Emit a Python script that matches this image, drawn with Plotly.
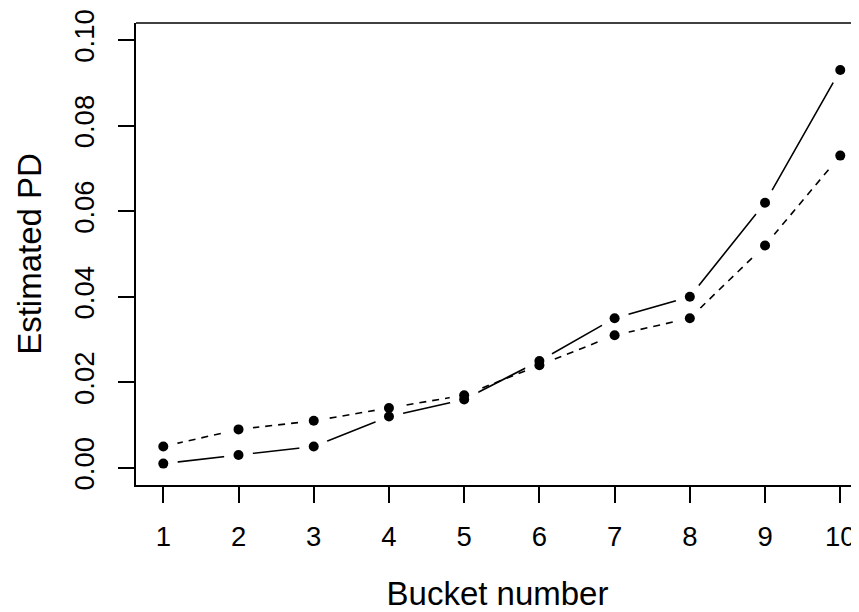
import plotly.graph_objects as go

buckets = [1, 2, 3, 4, 5, 6, 7, 8, 9, 10]
pd_solid = [0.001, 0.003, 0.005, 0.012, 0.016, 0.025, 0.035, 0.040, 0.062, 0.093]
pd_dashed = [0.005, 0.009, 0.011, 0.014, 0.017, 0.024, 0.031, 0.035, 0.052, 0.073]
y_ticks = [0.00, 0.02, 0.04, 0.06, 0.08, 0.10]
y_ticktext = ["0.00", "0.02", "0.04", "0.06", "0.08", "0.10"]
x_title = "Bucket number"
y_title = "Estimated PD"

FONT = "Liberation Sans, Arial, sans-serif"
FS = 27.5
LW = 1.6

fig = go.Figure()
fig.add_trace(go.Scatter(x=buckets, y=pd_solid, mode="lines",
                         line=dict(color="black", width=LW), hoverinfo="skip"))
fig.add_trace(go.Scatter(x=buckets, y=pd_dashed, mode="lines",
                         line=dict(color="black", width=LW, dash="7px,6px"), hoverinfo="skip"))
# white masks give the line gaps of an R type="b" plot
fig.add_trace(go.Scatter(x=buckets + buckets, y=pd_solid + pd_dashed, mode="markers",
                         marker=dict(color="white", size=29, line=dict(width=0)), hoverinfo="skip"))
fig.add_trace(go.Scatter(x=buckets, y=pd_solid, mode="markers",
                         marker=dict(color="black", size=10, line=dict(width=0))))
fig.add_trace(go.Scatter(x=buckets, y=pd_dashed, mode="markers",
                         marker=dict(color="black", size=10, line=dict(width=0))))

# the page body has an 8px margin, so the figure is 8px smaller and offsets are reduced by 8
fig.update_layout(
    width=851, height=604,
    margin=dict(l=128, r=0, t=15, b=127, pad=0),
    paper_bgcolor="white", plot_bgcolor="white",
    showlegend=False,
    font=dict(family=FONT, size=FS, color="black"),
    xaxis=dict(range=[0.637, 10.249], tickvals=buckets, ticks="outside", ticklen=16,
               tickwidth=LW, tickcolor="black", showline=True, linecolor="black",
               linewidth=LW, showgrid=False, zeroline=False, ticklabelstandoff=10,
               automargin=False, title=dict(text=x_title, standoff=50)),
    yaxis=dict(range=[-0.004, 0.104], tickvals=y_ticks, ticktext=y_ticktext,
               ticks="outside", ticklen=16, tickwidth=LW, tickcolor="black", tickangle=-90,
               showline=True, linecolor="black", linewidth=LW, automargin=False,
               showgrid=False, zeroline=False, ticklabelstandoff=13,
               title=dict(text=y_title, standoff=18)),
    shapes=[dict(type="line", xref="paper", yref="paper", x0=0, x1=1, y0=1, y1=1,
                 line=dict(color="black", width=LW))],
)
fig.write_html("out.html")
